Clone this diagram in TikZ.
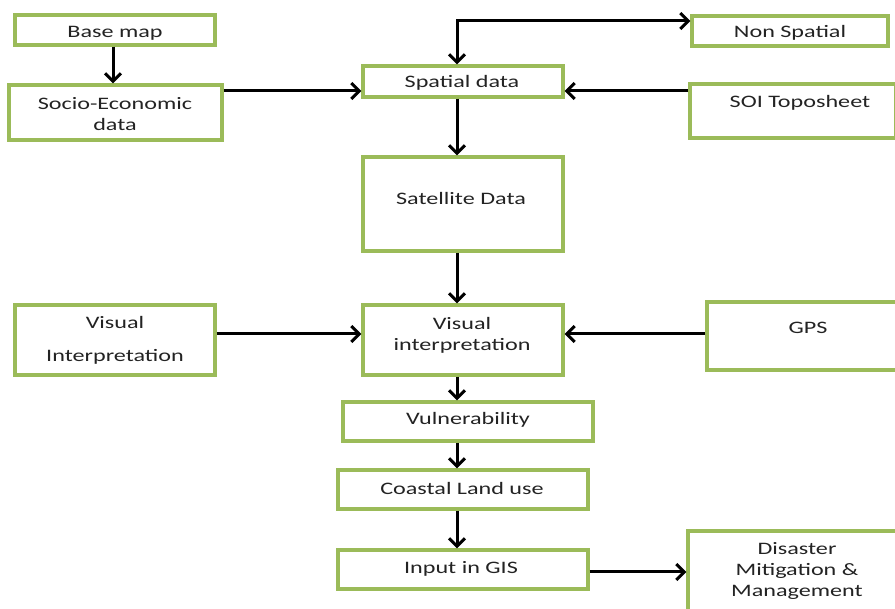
\documentclass[tikz,border=0pt]{standalone}
\usepackage{fontspec}
\setmainfont{Carlito}[FakeStretch=1.38]
\usetikzlibrary{arrows.meta}
\definecolor{boxgreen}{RGB}{155,187,89}
\definecolor{txtgray}{RGB}{35,35,35}
\begin{document}
\begin{tikzpicture}[x=1pt,y=-1pt,
  box/.style={draw=boxgreen, line width=3.2pt, fill=white, inner sep=0pt},
  txt/.style={font=\fontsize{17.5}{21}\selectfont, text=txtgray, align=center, inner sep=0pt, yshift=-2pt},
  arr/.style={draw=black, line width=3pt, -{Straight Barb[length=8pt,width=16pt]}},
  darr/.style={draw=black, line width=3pt, {Straight Barb[length=8pt,width=16pt]}-{Straight Barb[length=8pt,width=16pt]}}]
\fill[white] (0,0) rectangle (895,609);
\useasboundingbox (0,0) rectangle (895,609);
% boxes
\node[box, minimum width=200pt, minimum height=30pt] (base) at (115,30) {};
\node[box, minimum width=213pt, minimum height=55pt] (socio) at (115.5,112.5) {};
\node[box, minimum width=200pt, minimum height=31pt] (spatial) at (463,81.5) {};
\node[box, minimum width=196pt, minimum height=30pt] (nonsp) at (790,31) {};
\node[box, minimum width=206pt, minimum height=54pt] (soi) at (793,111) {};
\node[box, minimum width=200pt, minimum height=94pt] (sat) at (463,204) {};
\node[box, minimum width=200pt, minimum height=70pt] (vis) at (463,340) {};
\node[box, minimum width=200pt, minimum height=70pt] (lvis) at (115,340) {};
\node[box, minimum width=192pt, minimum height=68pt] (gps) at (803,336) {};
\node[box, minimum width=250pt, minimum height=39pt] (vuln) at (468,421.5) {};
\node[box, minimum width=250pt, minimum height=39pt] (coast) at (463,489.5) {};
\node[box, minimum width=250pt, minimum height=39pt] (gis) at (463,569.5) {};
\node[box, minimum width=214pt, minimum height=88pt] (dis) at (795,575) {};
% texts
\node[txt] (baset) at (115,31) {Base map};
\node[txt] (sociot) at (115,112) {Socio-Economic\\data};
\node[txt] (spatialt) at (462,81) {Spatial data};
\node[txt] (nonspt) at (790,31) {Non Spatial};
\node[txt] (soit) at (800,101) {SOI Toposheet};
\node[txt] (satt) at (461,196) {Satellite Data};
\node[txt] (vist) at (462,333) {Visual\\interpretation};
\node[txt] (lvist) at (115,338) {Visual\\[12pt]Interpretation};
\node[txt] (gpst) at (808,326) {GPS};
\node[txt] (vulnt) at (468,418) {Vulnerability};
\node[txt] (coastt) at (462,486) {Coastal Land use};
\node[txt] (gist) at (461,567) {Input in GIS};
\node[txt] (dist) at (797,569) {Disaster\\Mitigation \&\\Management};
% helper coordinates
\coordinate (axis) at (457,0);
\coordinate (top) at (0,21);
\coordinate (r1) at (0,91);
\coordinate (r2) at (0,334);
\coordinate (r3) at (0,572);
% connectors
\draw[arr] (base.south -| 113,0) -- (socio.north -| 113,0);
\draw[arr] (socio.east |- r1) -- (spatial.west |- r1);
\draw[darr] (spatial.north -| axis) |- (nonsp.west |- top);
\draw[arr] (soi.west |- r1) -- (spatial.east |- r1);
\draw[arr] (spatial.south -| axis) -- (sat.north -| axis);
\draw[arr] (sat.south -| axis) -- (vis.north -| axis);
\draw[arr] (lvis.east |- r2) -- (vis.west |- r2);
\draw[arr] (gps.west |- r2) -- (vis.east |- r2);
\draw[arr] (vis.south -| axis) -- (vuln.north -| axis);
\draw[arr] (vuln.south -| axis) -- (coast.north -| axis);
\draw[arr] (coast.south -| axis) -- (gis.north -| axis);
\draw[arr] (gis.east |- r3) -- (dis.west |- r3);
\end{tikzpicture}
\end{document}
